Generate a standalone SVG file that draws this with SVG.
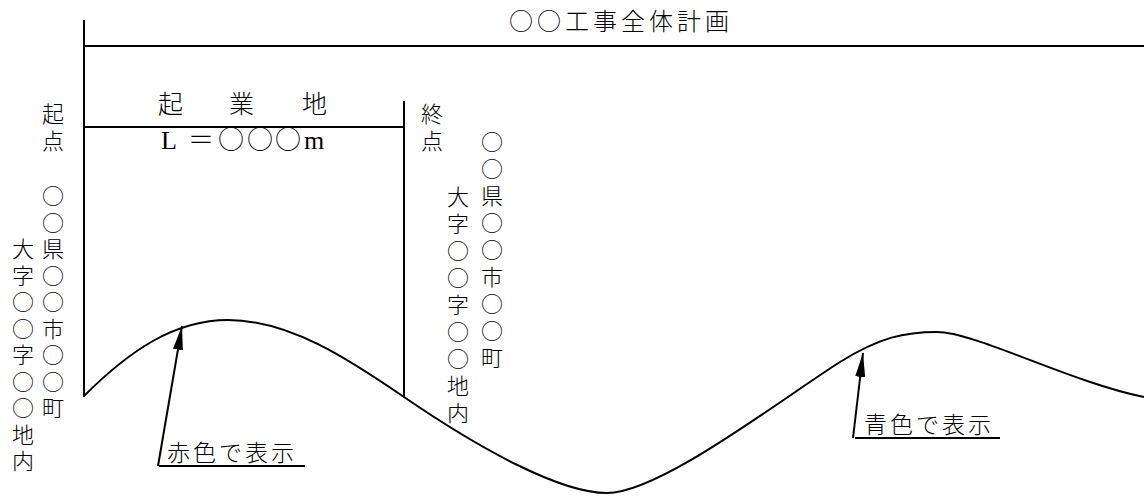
<svg xmlns="http://www.w3.org/2000/svg" width="1144" height="499" viewBox="0 0 1144 499">
<style>
.ln{stroke:#000;stroke-width:2;fill:none}
.t{font-family:"Noto Sans CJK JP","Liberation Serif",serif;fill:#000;font-weight:300}
.v{font-size:22px;writing-mode:vertical-rl;letter-spacing:4.5px}
.v2{font-size:22px;writing-mode:vertical-rl;letter-spacing:5px}
</style>
<defs>
<marker id="ah" viewBox="0 0 24 10" refX="24" refY="5" markerWidth="24" markerHeight="10" markerUnits="userSpaceOnUse" orient="auto">
<path d="M0,0 L24,5 L0,10 z" fill="#000"/>
</marker>
</defs>
<g id="frame">
<line class="ln" x1="84" y1="20" x2="84" y2="397"/>
<line class="ln" x1="84" y1="46" x2="1144" y2="46"/>
<line class="ln" x1="84" y1="127" x2="404" y2="127"/>
<line class="ln" x1="404" y1="101" x2="404" y2="397"/>
</g>
<g id="title"><text class="t" x="509" y="30" font-size="24" letter-spacing="4">○○工事全体計画</text></g>
<g id="kigyochi">
<text class="t" font-size="25" y="113"><tspan x="158">起</tspan><tspan x="229">業</tspan><tspan x="302">地</tspan></text>
<text class="t" font-size="26" y="149"><tspan x="161" font-family="Liberation Serif">L</tspan><tspan x="188">＝</tspan><tspan x="218">○</tspan><tspan x="247">○</tspan><tspan x="275">○</tspan><tspan x="304" font-family="Liberation Serif">m</tspan></text>
</g>
<g id="start-label">
<text class="t v" x="53" y="103" letter-spacing="6">起点</text>
<text class="t v" x="53" y="185">○○県○○市○○町</text>
<text class="t v" x="23" y="238">大字○○字○○地内</text>
</g>
<g id="end-label">
<text class="t v" x="432" y="103" letter-spacing="5">終点</text>
<text class="t v2" x="492" y="131">○○県○○市○○町</text>
<text class="t v2" x="458" y="186">大字○○字○○地内</text>
</g>
<g id="connectors">
<path class="ln" d="M84,396 C130,350 175,320 228,320 C290,320 350,360 404,397 C480,449 560,493 607,493 C660,493 780,400 840,362 C880,337 905,332 937,332 C975,332 1070,382 1144,397"/>
<line class="ln" x1="158" y1="466" x2="182" y2="326" marker-end="url(#ah)"/>
<line class="ln" x1="159" y1="466" x2="305" y2="466"/>
<line class="ln" x1="853" y1="438" x2="863" y2="353" marker-end="url(#ah)"/>
<line class="ln" x1="855" y1="438" x2="1000" y2="438"/>
</g>
<g id="red-label"><text class="t" x="167" y="461" font-size="23" letter-spacing="3">赤色で表示</text></g>
<g id="blue-label"><text class="t" x="864" y="433" font-size="23" letter-spacing="3">青色で表示</text></g>
</svg>
